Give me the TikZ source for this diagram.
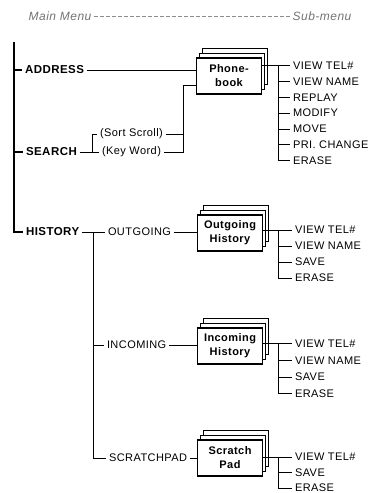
\documentclass[tikz,border=0pt]{standalone}
\usepackage{fontspec}
\setmainfont{Liberation Sans}[LetterSpace=4.0]
\usetikzlibrary{shadows}

\begin{document}
\begin{tikzpicture}[x=1pt, y=-1pt, line width=1pt,
    voce/.style={inner sep=2.5pt, font=\fontsize{11}{12}\selectfont},
    menu/.style={inner sep=2.5pt, font=\fontsize{11.5}{12}\selectfont\bfseries},
    titolo/.style={inner sep=2pt, black!55, font=\fontsize{12}{13}\selectfont\itshape},
    scatola/.style={draw, fill=white, line width=1.1pt, minimum width=65pt,
        minimum height=36pt, align=center, inner sep=1pt,
        font=\fontsize{11}{14}\selectfont\bfseries,
        double copy shadow={shadow xshift=3pt, shadow yshift=5pt, line width=0.9pt}},
    spina/.style={line width=2.4pt}]

\useasboundingbox (0,0) rectangle (372,493);

%% === Intestazione ===
\node[titolo] (mainmenu) at (60,16) {Main Menu};
\node[titolo] (submenu) at (322,16) {Sub-menu};
\draw[black!45, line width=0.6pt, dash pattern=on 4pt off 2pt] (mainmenu) -- (submenu);

%% === Menu principale: linea verticale spessa ===
\coordinate (top) at (14,42);
\node[menu, anchor=west] (address) at (22,70)  {ADDRESS};
\node[menu, anchor=west] (search)  at (23,152) {SEARCH};
\node[menu, anchor=west] (history) at (23,232) {HISTORY};
\draw[spina] (top) |- (history.west);
\draw[spina] (top |- address) -- (address.west);
\draw[spina] (top |- search) -- (search.west);

%% === Phone-book ===
\node[scatola] (phone) at (229,76) {Phone-\\book};
\node[voce, anchor=west] (sort)    at (97,134)  {(Sort Scroll)};
\node[voce, anchor=west] (keyword) at (99,152) {(Key Word)};
\coordinate (sbrk) at (92,134);
\coordinate (pbrk) at (183,85);

\draw (address.east) -- (address -| phone.west);
\draw (search.east) -- (keyword.west);
\draw (sbrk |- search) |- (sort.west);
\draw (sort.east) -- (sort.east -| pbrk);
\draw (keyword.east) -| (pbrk) -- (pbrk -| phone.west);

\foreach \t [count=\i] in {VIEW TEL\#, VIEW NAME, REPLAY, MODIFY, MOVE, PRI. CHANGE, ERASE}
    \node[voce, anchor=west] (pb\i) at (290, 50+15.8*\i) {\t};

\coordinate (pbus) at (278,66);
\draw (phone.east |- pb1) -- (pb1.west);
\draw (pbus) |- (pb7.west);
\foreach \i in {2,...,6} \draw (pbus |- pb\i.west) -- (pb\i.west);

%% === History ===
\node[voce, anchor=west] (outgoing)   at (105,232) {OUTGOING};
\node[voce, anchor=west] (incoming)   at (104,345) {INCOMING};
\node[voce, anchor=west] (scratchpad) at (106,458) {SCRATCHPAD};
\coordinate (hbus) at (93,232);

\draw (history.east) -- (outgoing.west);
\draw (hbus) |- (scratchpad.west);
\draw (hbus |- incoming) -- (incoming.west);

\node[scatola] (outbox) at (230,233) {Outgoing\\History};
\node[scatola] (inbox)  at (230,346) {Incoming\\History};
\node[scatola] (padbox) at (230,458) {Scratch\\Pad};

\draw (outgoing.east)   -- (outgoing -| outbox.west);
\draw (incoming.east)   -- (incoming -| inbox.west);
\draw (scratchpad.east) -- (scratchpad -| padbox.west);

%% Sotto-menu: Outgoing
\foreach \t [count=\i] in {VIEW TEL\#, VIEW NAME, SAVE, ERASE}
    \node[voce, anchor=west] (og\i) at (292, 214+16*\i) {\t};
\coordinate (obus) at (278,230);
\draw (outbox.east |- og1) -- (og1.west);
\draw (obus) |- (og4.west);
\foreach \i in {2,3} \draw (obus |- og\i.west) -- (og\i.west);

%% Sotto-menu: Incoming
\foreach \t [count=\i] in {VIEW TEL\#, VIEW NAME, SAVE, ERASE}
    \node[voce, anchor=west] (ic\i) at (292, 327+16.7*\i) {\t};
\coordinate (ibus) at (278,343.7);
\draw (inbox.east |- ic1) -- (ic1.west);
\draw (ibus) |- (ic4.west);
\foreach \i in {2,3} \draw (ibus |- ic\i.west) -- (ic\i.west);

%% Sotto-menu: Scratch Pad
\foreach \t [count=\i] in {VIEW TEL\#, SAVE, ERASE}
    \node[voce, anchor=west] (sp\i) at (292, 441.5+15.5*\i) {\t};
\coordinate (sbus) at (278,457);
\draw (padbox.east |- sp1) -- (sp1.west);
\draw (sbus) |- (sp3.west);
\draw (sbus |- sp2.west) -- (sp2.west);

\end{tikzpicture}
\end{document}
